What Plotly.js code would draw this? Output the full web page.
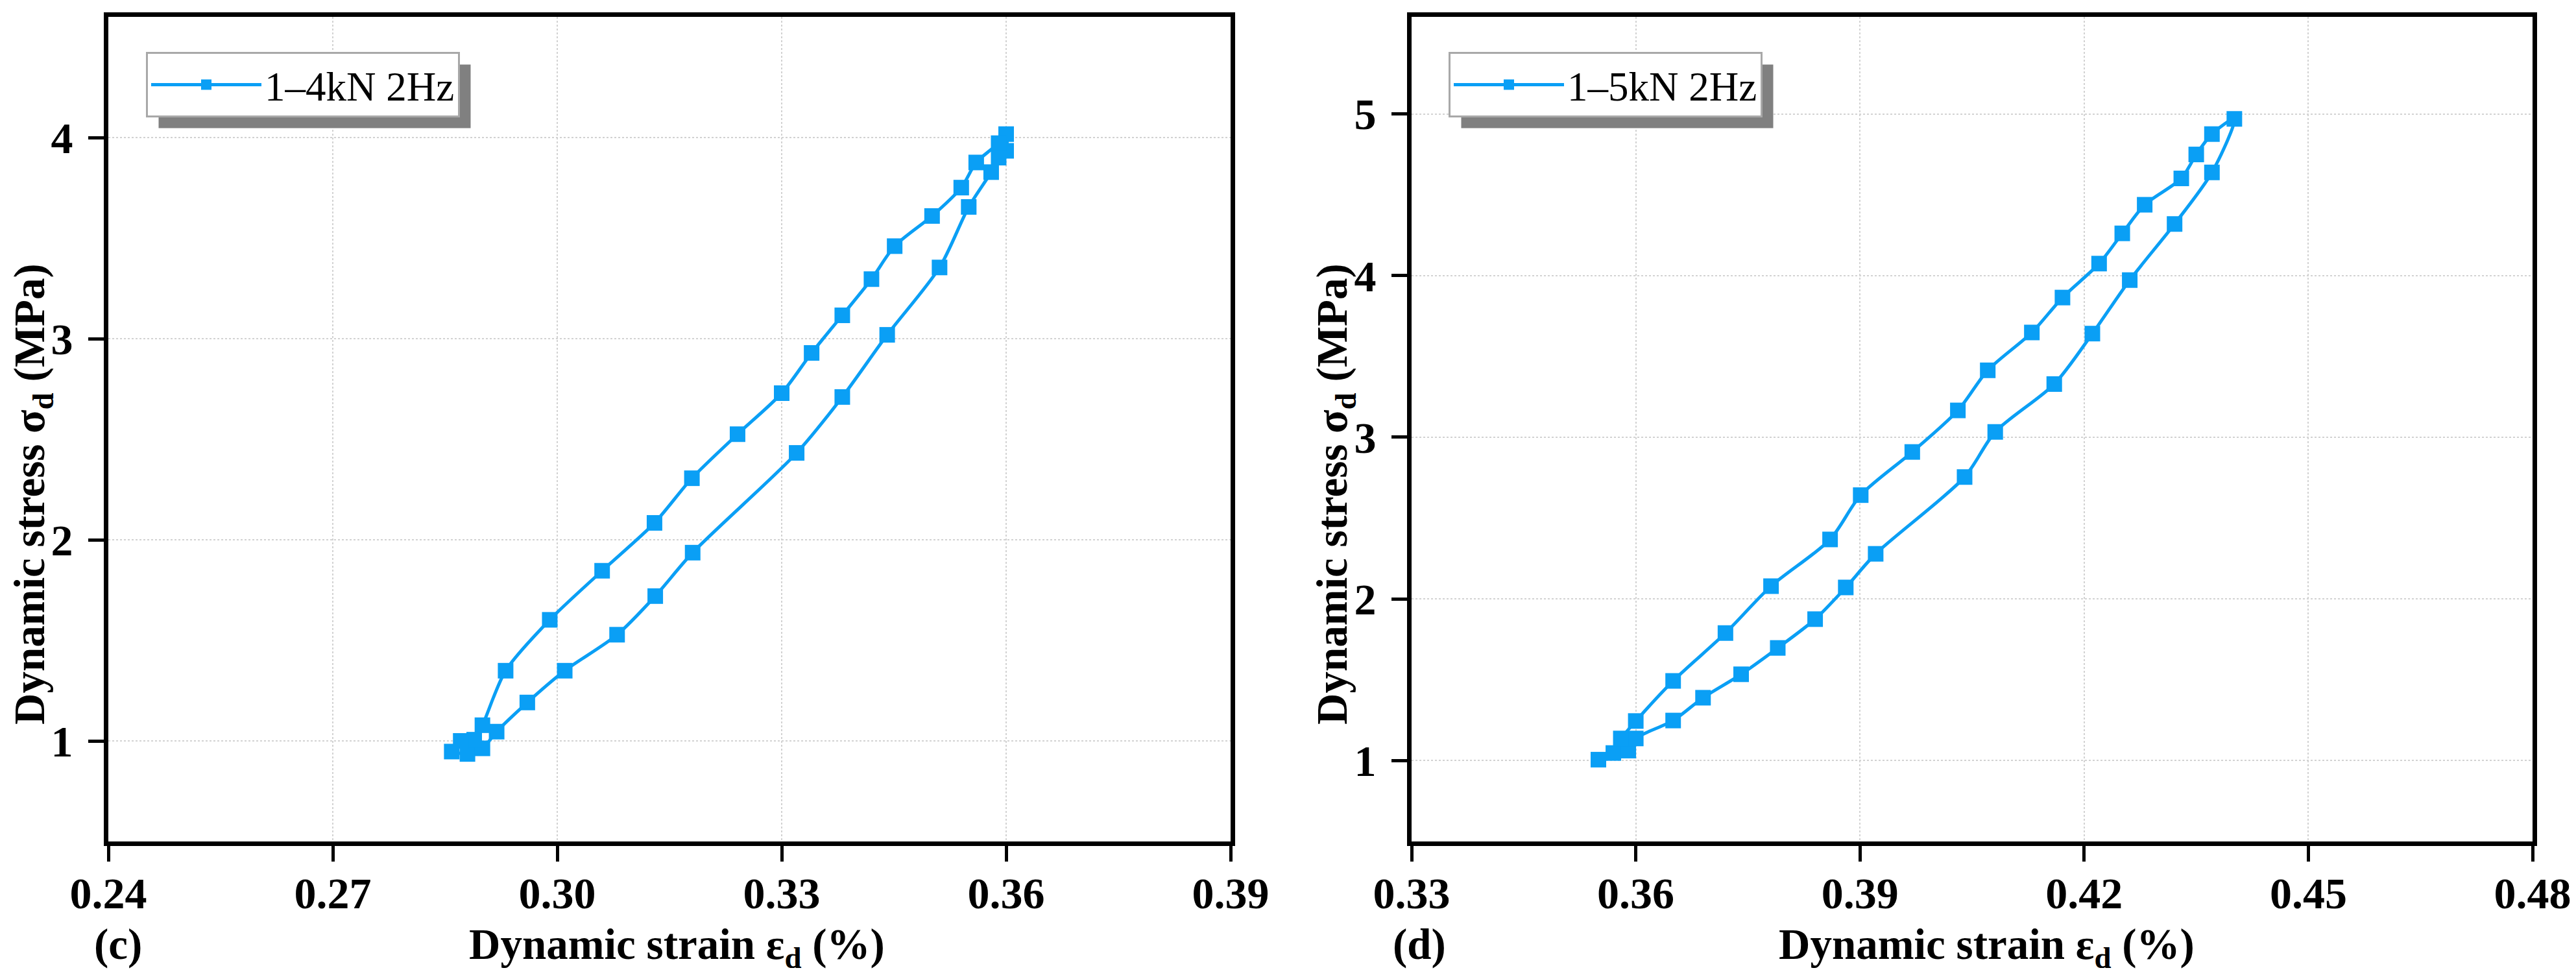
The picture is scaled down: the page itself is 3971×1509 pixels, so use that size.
<!DOCTYPE html>
<html>
<head>
<meta charset="utf-8">
<script src="https://cdn.plot.ly/plotly-3.0.1.min.js"></script>
<style>
  body { margin: 0; background: white; }
  #chart { width: 3971px; height: 1509px; }
</style>
</head>
<body>
<div id="chart"></div>
<script>
// (c) 1-4kN 2Hz hysteresis loop
var strainC = [0.2859, 0.2880, 0.2900, 0.2919, 0.2960, 0.3010, 0.3080, 0.3131, 0.3181, 0.3320,
               0.3381, 0.3441, 0.3511, 0.3550, 0.3580, 0.3590, 0.3600, 0.3600, 0.3590, 0.3560,
               0.3540, 0.3501, 0.3451, 0.3420, 0.3381, 0.3340, 0.3300, 0.3241, 0.3180, 0.3130,
               0.3060, 0.2990, 0.2931, 0.2900, 0.2889, 0.2871];
var stressC = [0.947, 0.935, 0.963, 1.046, 1.191, 1.349, 1.528, 1.720, 1.936, 2.432,
               2.710, 3.019, 3.354, 3.655, 3.828, 3.900, 3.934, 4.017, 3.972, 3.876,
               3.751, 3.610, 3.460, 3.296, 3.116, 2.929, 2.729, 2.525, 2.306, 2.084,
               1.846, 1.602, 1.349, 1.078, 1.006, 1.000];

// (d) 1-5kN 2Hz hysteresis loop
var strainD = [0.3550, 0.3570, 0.3590, 0.3600, 0.3650, 0.3690, 0.3741, 0.3790, 0.3840, 0.3881,
               0.3921, 0.4040, 0.4081, 0.4160, 0.4211, 0.4261, 0.4321, 0.4371, 0.4401, 0.4371,
               0.4350, 0.4330, 0.4281, 0.4251, 0.4220, 0.4171, 0.4130, 0.4071, 0.4031, 0.3970,
               0.3901, 0.3860, 0.3781, 0.3720, 0.3650, 0.3600, 0.3580];
var stressD = [1.006, 1.047, 1.062, 1.137, 1.248, 1.389, 1.534, 1.697, 1.875, 2.071,
               2.279, 2.754, 3.033, 3.329, 3.641, 3.972, 4.319, 4.638, 4.969, 4.875,
               4.749, 4.601, 4.438, 4.261, 4.074, 3.864, 3.648, 3.414, 3.166, 2.909,
               2.642, 2.368, 2.079, 1.789, 1.493, 1.245, 1.137];

var nameC = '1\u20134kN 2Hz';
var nameD = '1\u20135kN 2Hz';
var xTicksC = [0.24, 0.27, 0.30, 0.33, 0.36, 0.39];
var xTicksD = [0.33, 0.36, 0.39, 0.42, 0.45, 0.48];

var blue = '#0a9ff5';
var serif = 'Liberation Serif, Times New Roman, serif';
var W = 3971, H = 1509;

function loop(x, y, name, xa, ya, leg) {
  return {
    x: x, y: y, name: name, xaxis: xa, yaxis: ya, legend: leg,
    type: 'scatter', mode: 'lines+markers',
    line: {color: blue, width: 5, shape: 'spline', smoothing: 0.8},
    marker: {color: blue, symbol: 'square', size: 24}
  };
}

var data = [
  loop(strainC, stressC, nameC, 'x', 'y', 'legend'),
  loop(strainD, stressD, nameD, 'x2', 'y2', 'legend2')
];

function axisStyle(extra) {
  var a = {
    showline: true, linecolor: 'black', linewidth: 7, mirror: true,
    ticks: 'outside', ticklen: 24, tickwidth: 5, tickcolor: 'black',
    showgrid: true, gridcolor: '#d2d2d2', griddash: 'dot', gridwidth: 2,
    zeroline: false,
    tickfont: {family: serif, size: 68, color: 'black', weight: 'bold'}
  };
  for (var k in extra) a[k] = extra[k];
  return a;
}

var yDom = [1 - 1297 / H, 1 - 26 / H];

var titleFont = {family: serif, size: 67, color: 'black', weight: 'bold'};

function legendBox(px) {
  return {
    x: px / W, y: 1 - 80 / H, xanchor: 'left', yanchor: 'top',
    bgcolor: 'white', bordercolor: '#a8a8a8', borderwidth: 3,
    font: {family: serif, size: 63, color: 'black'},
    itemwidth: 170
  };
}

var layout = {
  width: W, height: H,
  margin: {l: 0, r: 0, t: 0, b: 0},
  paper_bgcolor: 'white', plot_bgcolor: 'white',
  font: {family: serif, color: 'black'},
  showlegend: true,
  xaxis: axisStyle({domain: [167 / W, 1897 / W], range: [0.24, 0.39], tickvals: xTicksC, tickformat: '.2f', anchor: 'y', ticklabelstandoff: -10}),
  yaxis: axisStyle({domain: yDom, range: [0.5, 4.6], dtick: 1, anchor: 'x', ticklabelstandoff: 10}),
  xaxis2: axisStyle({domain: [2176 / W, 3904 / W], range: [0.33, 0.48], tickvals: xTicksD, tickformat: '.2f', anchor: 'y2', ticklabelstandoff: -10}),
  yaxis2: axisStyle({domain: yDom, range: [0.5, 5.6], dtick: 1, anchor: 'x2', ticklabelstandoff: 10}),
  legend: legendBox(225),
  legend2: legendBox(2233),
  annotations: [
    {xref: 'paper', yref: 'paper', x: 1043 / W, y: 1 - 1460 / H, showarrow: false,
     text: 'Dynamic strain \u03b5<sub>d</sub> (%)', font: titleFont, xanchor: 'center', yanchor: 'middle'},
    {xref: 'paper', yref: 'paper', x: 3062 / W, y: 1 - 1460 / H, showarrow: false,
     text: 'Dynamic strain \u03b5<sub>d</sub> (%)', font: titleFont, xanchor: 'center', yanchor: 'middle'},
    {xref: 'paper', yref: 'paper', x: 50 / W, y: 1 - 762 / H, showarrow: false, textangle: -90,
     text: 'Dynamic stress \u03c3<sub>d</sub> (MPa)', font: titleFont, xanchor: 'center', yanchor: 'middle'},
    {xref: 'paper', yref: 'paper', x: 2058 / W, y: 1 - 762 / H, showarrow: false, textangle: -90,
     text: 'Dynamic stress \u03c3<sub>d</sub> (MPa)', font: titleFont, xanchor: 'center', yanchor: 'middle'},
    {xref: 'paper', yref: 'paper', x: 182 / W, y: 1 - 1455 / H, showarrow: false,
     text: '(c)', font: titleFont, xanchor: 'center', yanchor: 'middle'},
    {xref: 'paper', yref: 'paper', x: 2188 / W, y: 1 - 1455 / H, showarrow: false,
     text: '(d)', font: titleFont, xanchor: 'center', yanchor: 'middle'}
  ]
};

Plotly.newPlot('chart', data, layout, {staticPlot: true}).then(function (gd) {
  // fit the grey drop shadows to the legend boxes Plotly actually drew
  var shapes = [];
  ['legend', 'legend2'].forEach(function (id) {
    var bg = gd.querySelector('svg.' + id + ' rect.bg') || gd.querySelector('g.' + id + ' rect.bg');
    if (!bg) return;
    var r = bg.getBoundingClientRect();
    var off = 18;
    shapes.push({
      type: 'rect', xref: 'paper', yref: 'paper', layer: 'above',
      x0: (r.left + off) / W, x1: (r.right + off) / W,
      y0: 1 - (r.bottom + off) / H, y1: 1 - (r.top + off) / H,
      fillcolor: '#808080', line: {width: 0}
    });
  });
  if (shapes.length === 2) Plotly.relayout(gd, {shapes: shapes});
});
</script>
</body>
</html>
